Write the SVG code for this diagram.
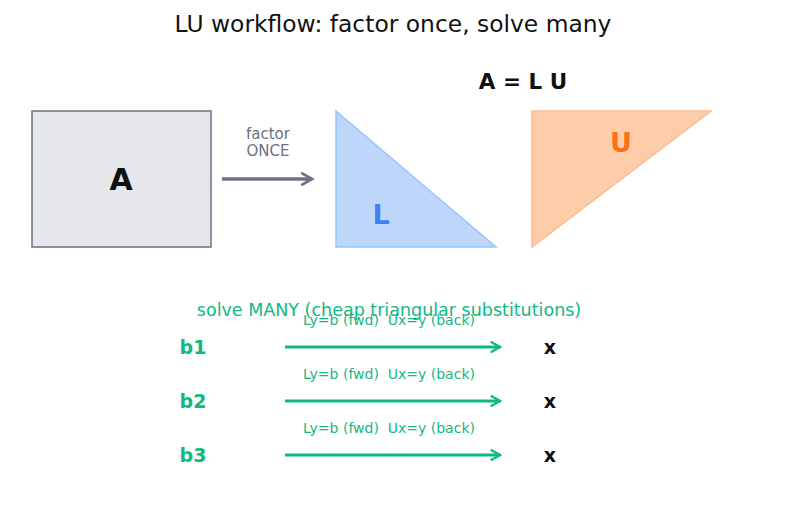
<svg xmlns="http://www.w3.org/2000/svg" width="787" height="510" viewBox="0 0 787 510">
<defs>
<style>
text{font-family:"DejaVu Sans",sans-serif;text-anchor:middle}
.g{fill:#10b981}
.b{font-weight:bold}
.sl{stroke:#10b981;stroke-width:3;fill:none}
.s{font-size:14px;white-space:pre}
</style>
<marker id="ag" viewBox="0 0 10 10" refX="8" refY="5" markerWidth="4" markerHeight="4" orient="auto" markerUnits="strokeWidth"><path d="M1,1 L8,5 L1,9" fill="none" stroke="#10b981" stroke-width="2" stroke-linecap="round"/></marker>
<marker id="ay" viewBox="0 0 10 10" refX="8" refY="5" markerWidth="4" markerHeight="4" orient="auto" markerUnits="strokeWidth"><path d="M1,1 L8,5 L1,9" fill="none" stroke="#6b7280" stroke-width="2" stroke-linecap="round"/></marker>
</defs>
<rect width="787" height="510" fill="#fff"/>
<text x="393" y="32" font-size="23.4" fill="#111">LU workflow: factor once, solve many</text>
<text x="523" y="89" font-size="21.5" class="b" fill="#111">A = L U</text>
<g id="A"><rect x="32" y="111" width="179" height="136" fill="#e5e7eb" stroke="#6b7280" stroke-width="1.5"/><text x="121" y="190" font-size="30" class="b" fill="#111">A</text></g>
<g id="L"><polygon points="336,111 336,247 496,247" fill="#bfd6fb" stroke="#93c5fd" stroke-width="1.5"/><text x="381" y="224" font-size="27" class="b" fill="#3b82f6">L</text></g>
<g id="U"><polygon points="532,111 711,111 532,247" fill="#fdcdaa" stroke="#fdba8c" stroke-width="1.5"/><text x="621" y="152" font-size="27" class="b" fill="#f97316">U</text></g>
<text x="268" y="139" font-size="15" fill="#6b7280">factor</text>
<text x="268" y="156" font-size="15" fill="#6b7280">ONCE</text>
<text x="389" y="316" font-size="17.5" class="g">solve MANY (cheap triangular substitutions)</text>
<g id="b1"><text x="193" y="354" font-size="19" class="b g">b1</text></g>
<g id="b2"><text x="193" y="408" font-size="19" class="b g">b2</text></g>
<g id="b3"><text x="193" y="462" font-size="19" class="b g">b3</text></g>
<g id="x1"><text x="550" y="354" font-size="19" class="b" fill="#111">x</text></g>
<g id="x2"><text x="550" y="408" font-size="19" class="b" fill="#111">x</text></g>
<g id="x3"><text x="550" y="462" font-size="19" class="b" fill="#111">x</text></g>
<g id="connectors">
<line x1="222" y1="179" x2="312" y2="179" stroke="#6b7280" stroke-width="3.5" marker-end="url(#ay)"/>
<line x1="285" y1="347" x2="500" y2="347" class="sl" marker-end="url(#ag)"/>
<line x1="285" y1="401" x2="500" y2="401" class="sl" marker-end="url(#ag)"/>
<line x1="285" y1="455" x2="500" y2="455" class="sl" marker-end="url(#ag)"/>
<text x="389" y="325" class="s g">Ly=b (fwd)  Ux=y (back)</text>
<text x="389" y="379" class="s g">Ly=b (fwd)  Ux=y (back)</text>
<text x="389" y="433" class="s g">Ly=b (fwd)  Ux=y (back)</text>
</g>
</svg>
